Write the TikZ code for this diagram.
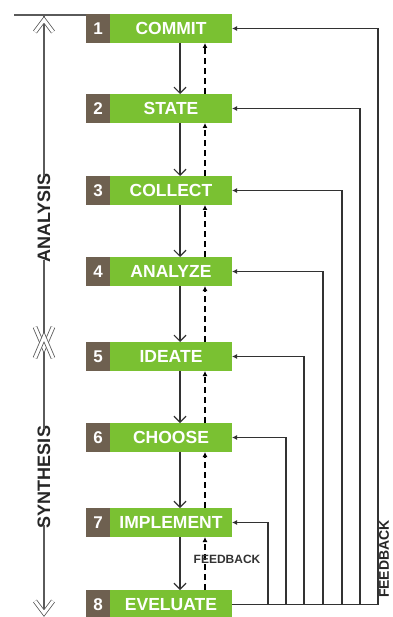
\documentclass[tikz,border=0pt]{standalone}
\usepackage{fontspec}
\setmainfont{Liberation Sans}
\usetikzlibrary{arrows.meta}
\definecolor{stepgreen}{RGB}{122,193,50}
\definecolor{stepbrown}{RGB}{110,96,80}
\definecolor{linegray}{RGB}{50,50,50}
\definecolor{axisgray}{RGB}{90,90,90}
\begin{document}
\begin{tikzpicture}[x=1pt,y=-1pt,
  numbox/.style={fill=stepbrown,text=white,font=\bfseries\fontsize{17}{17}\selectfont,
    minimum width=24pt,minimum height=29pt,inner sep=0pt,outer sep=0pt,anchor=center},
  stepbox/.style={fill=stepgreen,text=white,font=\bfseries\fontsize{17.5}{17.5}\selectfont,
    minimum width=122pt,minimum height=29pt,inner sep=0pt,outer sep=0pt,anchor=center},
  downarrow/.style={draw=linegray,line width=1.2pt,-{Straight Barb[length=6pt,width=12pt,line width=1.2pt]}},
  uparrow/.style={draw=black,line width=1.3pt,dash pattern=on 6pt off 4pt,-{Latex[length=5pt,width=5pt]}},
  fbarrow/.style={draw=linegray,line width=1.2pt,-{Latex[length=5pt,width=5pt]}},
  axisline/.style={draw=axisgray,line width=1.2pt},
  chevron/.style={draw=axisgray,line width=0.8pt,double=white,double distance=3pt,line join=miter},
  sidelabel/.style={text=black!85,font=\bfseries\fontsize{18}{18}\selectfont,rotate=90,inner sep=0pt}
]
\useasboundingbox (0,0) rectangle (392,617);

% boxes
\foreach \i/\y/\t in {1/28.5/COMMIT,2/108.5/STATE,3/190.5/COLLECT,4/271.5/ANALYZE,5/356.5/IDEATE,6/437.5/CHOOSE,7/522.5/IMPLEMENT,8/604.5/EVELUATE}{
  \node[numbox] (num\i) at (98,\y) {\i};
  \node[stepbox] (box\i) at (171,\y) {\t};
}

% columns for arrows
\coordinate (cd) at (180,0);
\coordinate (cu) at (205,0);

% down arrows and dashed feedback arrows
\foreach \i/\j in {1/2,2/3,3/4,4/5,5/6,6/7,7/8}{
  \draw[downarrow] (box\i.south -| cd) -- (box\j.north -| cd);
  \draw[uparrow] (box\j.north -| cu) -- (box\i.south -| cu);
}

% feedback label between 7 and 8
\node[font=\bfseries\fontsize{12}{12}\selectfont,text=black!80,inner sep=0pt] (fblabel) at (227,559) {FEEDBACK};

% feedback loops on the right
\coordinate (f1) at (378,0);
\coordinate (f2) at (360,0);
\coordinate (f3) at (342,0);
\coordinate (f4) at (323,0);
\coordinate (f5) at (304,0);
\coordinate (f6) at (286,0);
\coordinate (f7) at (268,0);
\draw[draw=linegray,line width=1.2pt] (box8.east) -- (f1 |- box8.east);
\foreach \i in {1,...,7}{
  \draw[fbarrow] (f\i |- box8.east) |- (box\i.east);
}
\node[font=\bfseries\fontsize{14}{14}\selectfont,text=black!85,rotate=90,inner sep=0pt] (fbside) at (384,559) {FEEDBACK};

% left axis
\coordinate (topL) at (14,15);
\coordinate (topR) at (86,15);
\draw[axisline] (topL) -- (topR);
\node[sidelabel] (analysis) at (44,218) {ANALYSIS};
\node[sidelabel] (synthesis) at (44,477) {SYNTHESIS};
\coordinate (a0) at (44,15);
\coordinate (a3) at (44,612);
\draw[axisline] (a0) -- ([yshift=-3pt]analysis.east);
\draw[axisline] ([yshift=3pt]analysis.west) -- ([yshift=-3pt]synthesis.east);
\draw[axisline] ([yshift=3pt]synthesis.west) -- (a3);

% hollow chevrons
\draw[chevron] (35,32) -- (44,20) -- (53,32);
\draw[chevron] (35,327) -- (44,348) -- (53,327);
\draw[chevron] (35,358) -- (44,337) -- (53,358);
\draw[chevron] (35,601) -- (44,613) -- (53,601);
\end{tikzpicture}
\end{document}
